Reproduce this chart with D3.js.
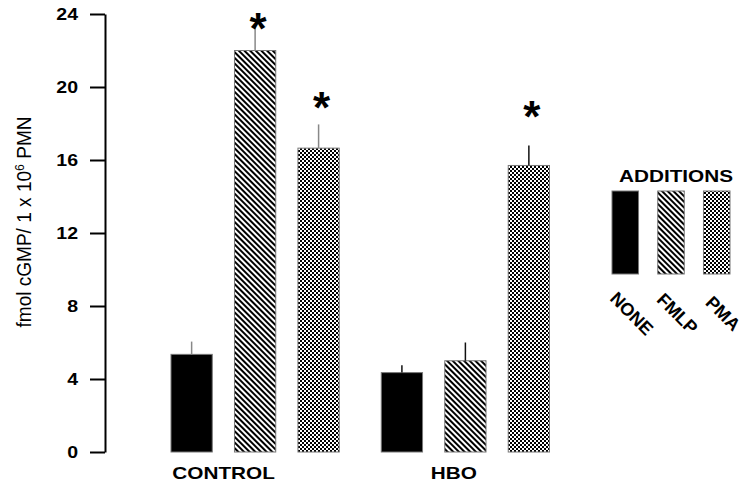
<!DOCTYPE html>
<html>
<head>
<meta charset="utf-8">
<script src="https://cdn.jsdelivr.net/npm/d3@7"></script>
<style>
    body { margin: 0; background: #fff; }
    text { font-family: "Liberation Sans", Arial, sans-serif; fill: #000; }
</style>
</head>
<body>
<div id="chart"></div>
<script>
// values, fmol cGMP / 1 x 10^6 PMN
const groups = ["CONTROL", "HBO"];
const additions = ["NONE", "FMLP", "PMA"];
const controlMeans = [5.35, 22.0, 16.65];
const controlErrors = [0.7, 1.3, 1.3];
const hboMeans = [4.35, 5.0, 15.7];
const hboErrors = [0.4, 1.0, 1.1];
// where the asterisks sit (y units), null = no asterisk
const controlStars = [null, 23.7, 19.4];
const hboStars = [null, null, 18.9];
const yTicks = [0, 4, 8, 12, 16, 20, 24];

// flat rows for drawing
let rows = [];
additions.forEach((a, i) => {
    rows.push({group: "CONTROL", addition: a, mean: controlMeans[i], err: controlErrors[i], star: controlStars[i]});
});
additions.forEach((a, i) => {
    rows.push({group: "HBO", addition: a, mean: hboMeans[i], err: hboErrors[i], star: hboStars[i]});
});

const width = 746, height = 483;
const wide = 1.22;   // the original figure looks horizontally stretched

let svg = d3.select("#chart")
    .append("svg")
    .attr("width", width)
    .attr("height", height);

// widen horizontal text to match
function stretch(sel, k) {
    sel.each(function () {
        let w = this.getComputedTextLength();
        d3.select(this).attr("textLength", w * k).attr("lengthAdjust", "spacingAndGlyphs");
    });
}

// fill patterns
let defs = svg.append("defs");

let stripes = defs.append("pattern")
    .attr("id", "stripes")
    .attr("patternUnits", "userSpaceOnUse")
    .attr("width", 4)
    .attr("height", 4)
    .attr("patternTransform", "rotate(-45)");
stripes.append("rect").attr("width", 4).attr("height", 4).attr("fill", "#fff");
stripes.append("rect").attr("width", 2).attr("height", 4).attr("fill", "#000");

let checks = defs.append("pattern")
    .attr("id", "checks")
    .attr("patternUnits", "userSpaceOnUse")
    .attr("width", 4)
    .attr("height", 4);
checks.append("rect").attr("width", 4).attr("height", 4).attr("fill", "#fff");
checks.append("rect").attr("width", 2).attr("height", 2).attr("fill", "#000");
checks.append("rect").attr("x", 2).attr("y", 2).attr("width", 2).attr("height", 2).attr("fill", "#000");

const fills = {NONE: "#000", FMLP: "url(#stripes)", PMA: "url(#checks)"};

// scales
let y = d3.scaleLinear().domain([0, 24]).range([452, 14]);

let xGroup = d3.scaleBand()
    .domain(groups)
    .range([171, 549.5])
    .paddingInner(0.2)
    .paddingOuter(0);

let xAdd = d3.scaleBand()
    .domain(additions)
    .range([0, xGroup.bandwidth()])
    .paddingInner(0.35);

const barX = d => xGroup(d.group) + xAdd(d.addition);
const barMid = d => barX(d) + xAdd.bandwidth() / 2;

// y axis
let yAxis = d3.axisLeft(y)
    .tickValues(yTicks)
    .tickFormat(d3.format("d"))
    .tickSize(15)
    .tickSizeOuter(0)
    .tickPadding(12);

let axisG = svg.append("g")
    .attr("transform", "translate(105,0)")
    .call(yAxis);

axisG.selectAll("path, line").attr("stroke", "#000").attr("stroke-width", 2);
axisG.selectAll("text")
    .attr("font-family", "Liberation Sans, Arial, sans-serif")
    .attr("font-size", 16)
    .attr("font-weight", "bold")
    .call(stretch, wide);

// y label
let ylab = svg.append("text")
    .attr("transform", `translate(31,222) scale(${wide},1) rotate(-90)`)
    .attr("text-anchor", "middle")
    .attr("font-size", 17);
ylab.append("tspan").text("fmol cGMP/ 1 x 10");
ylab.append("tspan").attr("dy", -6).attr("font-size", 11).text("6");
ylab.append("tspan").attr("dy", 6).text(" PMN");
ylab.attr("textLength", 211).attr("lengthAdjust", "spacingAndGlyphs");

// bars
svg.selectAll(".bar")
    .data(rows)
    .enter().append("rect")
    .attr("class", "bar")
    .attr("x", d => barX(d))
    .attr("y", d => y(d.mean))
    .attr("width", xAdd.bandwidth())
    .attr("height", d => y(0) - y(d.mean))
    .attr("fill", d => fills[d.addition])
    .attr("stroke", "#777")
    .attr("stroke-width", 1);

// error bars (upper half only)
svg.selectAll(".err")
    .data(rows)
    .enter().append("line")
    .attr("class", "err")
    .attr("x1", d => barMid(d))
    .attr("x2", d => barMid(d))
    .attr("y1", d => y(d.mean))
    .attr("y2", d => y(d.mean + d.err))
    .attr("stroke", d => d.group === "CONTROL" ? "#888" : "#111")
    .attr("stroke-width", 1.5);

// asterisks
svg.selectAll(".star")
    .data(rows.filter(d => d.star !== null))
    .enter().append("text")
    .attr("class", "star")
    .attr("x", d => barMid(d) + 3)
    .attr("y", d => y(d.star) + 25)
    .attr("text-anchor", "middle")
    .attr("font-size", 44)
    .attr("font-weight", "bold")
    .text("*");

// group labels
const groupDx = {CONTROL: -31.5, HBO: -11.5};
svg.selectAll(".glabel")
    .data(groups)
    .enter().append("text")
    .attr("class", "glabel")
    .attr("x", g => xGroup(g) + xGroup.bandwidth() / 2 + groupDx[g])
    .attr("y", 479)
    .attr("text-anchor", "middle")
    .attr("font-size", 17)
    .attr("font-weight", "bold")
    .text(g => g)
    .call(stretch, wide);

// legend
let xLeg = d3.scaleBand()
    .domain(additions)
    .range([612, 730])
    .paddingInner(0.42)
    .paddingOuter(0);

svg.append("text")
    .attr("x", 676)
    .attr("y", 182)
    .attr("text-anchor", "middle")
    .attr("font-size", 17)
    .attr("font-weight", "bold")
    .text("ADDITIONS")
    .call(stretch, wide);

svg.selectAll(".legbox")
    .data(additions)
    .enter().append("rect")
    .attr("class", "legbox")
    .attr("x", a => xLeg(a))
    .attr("y", 191)
    .attr("width", xLeg.bandwidth())
    .attr("height", 83)
    .attr("fill", a => fills[a])
    .attr("stroke", "#777")
    .attr("stroke-width", 1);

svg.selectAll(".leglabel")
    .data(additions)
    .enter().append("text")
    .attr("class", "leglabel")
    .attr("transform", a => `translate(${xLeg(a) + xLeg.bandwidth() / 2 + 2},318) rotate(45)`)
    .attr("text-anchor", "middle")
    .attr("font-size", 18)
    .attr("font-weight", "bold")
    .text(a => a);
</script>
</body>
</html>
